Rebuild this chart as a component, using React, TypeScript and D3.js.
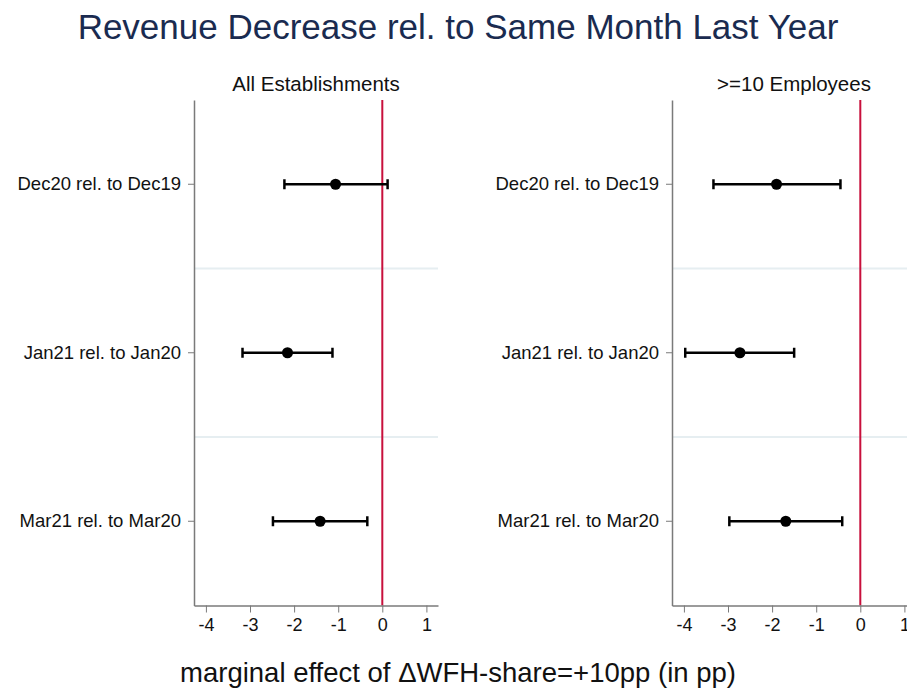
import { useEffect, useRef } from 'react';
import * as d3 from 'd3';

const W = 907;
const H = 689;

const COLORS = {
    title: '#1a2b50',
    text: '#111111',
    axis: '#7a7a7a',
    grid: '#e6eef1',
    zero: '#c8103c',
    mark: '#000000',
};

const ROWS = ['Dec20 rel. to Dec19', 'Jan21 rel. to Jan20', 'Mar21 rel. to Mar20'];
const X_TICKS = [-4, -3, -2, -1, 0, 1];

// point estimates and 95% CI bounds, per panel
const ALL_EST = [-1.06, -2.15, -1.41];
const ALL_LO = [-2.22, -3.17, -2.48];
const ALL_HI = [0.12, -1.13, -0.34];

const BIG_EST = [-1.90, -2.73, -1.69];
const BIG_LO = [-3.33, -3.97, -2.97];
const BIG_HI = [-0.45, -1.50, -0.41];

const PANELS = [
    { title: 'All Establishments', est: ALL_EST, lo: ALL_LO, hi: ALL_HI, left: 194 },
    { title: '>=10 Employees', est: BIG_EST, lo: BIG_LO, hi: BIG_HI, left: 672 },
];

export default function App() {
    const svgRef = useRef<SVGSVGElement | null>(null);

    useEffect(() => {
        if (!svgRef.current) return;
        const svg = d3.select(svgRef.current);
        svg.selectAll('*').remove();

        const font = 'Liberation Sans, Arial, sans-serif';
        const top = 100;
        const bottom = 605.5;
        const pw = 244;

        svg.append('text')
            .attr('x', 458).attr('y', 39)
            .attr('text-anchor', 'middle')
            .style('font-family', font).style('font-size', '35px')
            .style('fill', COLORS.title)
            .text('Revenue Decrease rel. to Same Month Last Year');

        PANELS.forEach((p) => {
            const x = d3.scaleLinear().domain([-4.27, 1.263]).range([p.left, p.left + pw]);
            const band = d3.scaleBand<string>().domain(ROWS).range([top, bottom]);
            const yc = (r: string) => (band(r) as number) + band.bandwidth() / 2;
            const g = svg.append('g');

            // panel title
            g.append('text')
                .attr('x', p.left + pw / 2).attr('y', 91)
                .attr('text-anchor', 'middle')
                .style('font-family', font).style('font-size', '20.5px')
                .style('fill', COLORS.text)
                .text(p.title);

            // separators between rows
            g.selectAll('line.sep')
                .data(ROWS.slice(1))
                .join('line')
                .attr('class', 'sep')
                .attr('x1', p.left).attr('x2', p.left + pw)
                .attr('y1', (d) => band(d) as number).attr('y2', (d) => band(d) as number)
                .attr('stroke', COLORS.grid).attr('stroke-width', 2);

            // zero line
            g.append('line')
                .attr('x1', x(0)).attr('x2', x(0))
                .attr('y1', top).attr('y2', bottom)
                .attr('stroke', COLORS.zero).attr('stroke-width', 2);

            // y axis
            const yAxis = g.append('g')
                .attr('transform', `translate(${p.left},0)`)
                .call(d3.axisLeft(band).tickSize(6).tickPadding(7).tickSizeOuter(0));
            yAxis.select('.domain').attr('stroke', COLORS.axis).attr('stroke-width', 1.5);
            yAxis.selectAll('line').attr('stroke', COLORS.axis);
            yAxis.selectAll('text')
                .style('font-family', font).style('font-size', '18.5px')
                .style('fill', COLORS.text);

            // x axis
            const xAxis = g.append('g')
                .attr('transform', `translate(0,${bottom})`)
                .call(d3.axisBottom(x).tickValues(X_TICKS).tickFormat((d) => String(d)).tickSize(7).tickPadding(6).tickSizeOuter(0));
            xAxis.select('.domain').attr('stroke', COLORS.axis).attr('stroke-width', 1.5);
            xAxis.selectAll('line').attr('stroke', COLORS.axis);
            xAxis.selectAll('text')
                .style('font-family', font).style('font-size', '18px')
                .style('fill', COLORS.text);

            // error bars
            const data = ROWS.map((r, i) => ({ r, est: p.est[i], lo: p.lo[i], hi: p.hi[i] }));
            g.selectAll('line.ci')
                .data(data)
                .join('line')
                .attr('class', 'ci')
                .attr('x1', (d) => x(d.lo)).attr('x2', (d) => x(d.hi))
                .attr('y1', (d) => yc(d.r)).attr('y2', (d) => yc(d.r))
                .attr('stroke', COLORS.mark).attr('stroke-width', 2.5);

            ['lo', 'hi'].forEach((k) => {
                g.selectAll(`line.cap-${k}`)
                    .data(data)
                    .join('line')
                    .attr('class', `cap-${k}`)
                    .attr('x1', (d: any) => x(d[k])).attr('x2', (d: any) => x(d[k]))
                    .attr('y1', (d) => yc(d.r) - 5).attr('y2', (d) => yc(d.r) + 5)
                    .attr('stroke', COLORS.mark).attr('stroke-width', 2.5);
            });

            g.selectAll('circle.est')
                .data(data)
                .join('circle')
                .attr('class', 'est')
                .attr('cx', (d) => x(d.est)).attr('cy', (d) => yc(d.r))
                .attr('r', 5.5)
                .attr('fill', COLORS.mark);
        });

        svg.append('text')
            .attr('x', 458).attr('y', 682)
            .attr('text-anchor', 'middle')
            .style('font-family', font).style('font-size', '27.5px')
            .style('fill', COLORS.text)
            .text('marginal effect of \u0394WFH-share=+10pp (in pp)');
    }, []);

    return (
        <svg ref={svgRef} width={W} height={H}
            style={{ position: 'absolute', left: 0, top: 0, background: '#fff' }} />
    );
}
